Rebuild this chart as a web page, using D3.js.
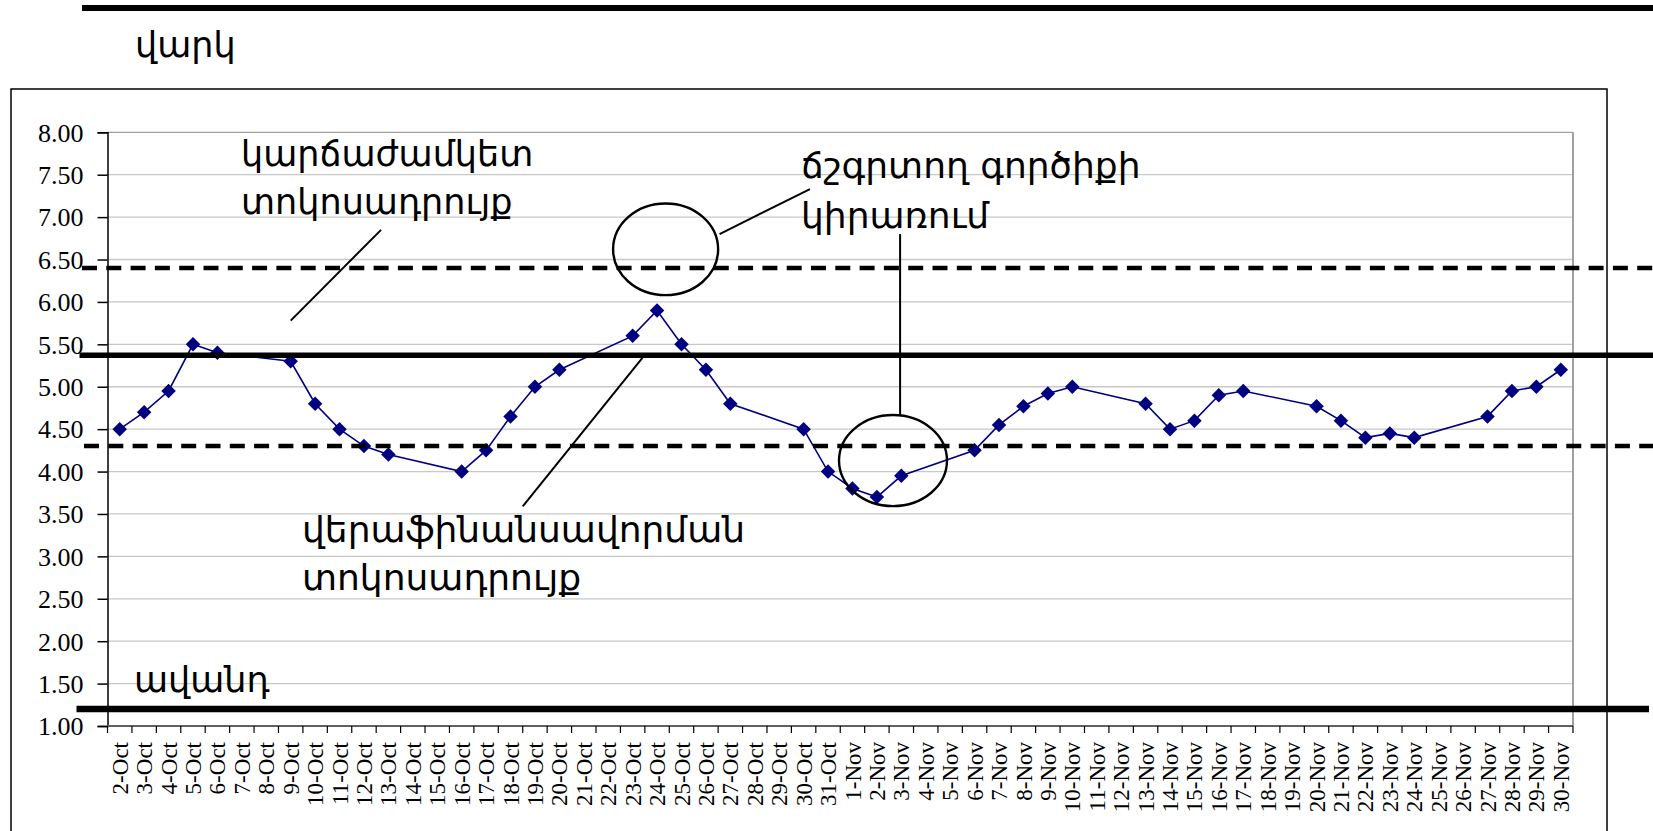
<!DOCTYPE html>
<html>
<head>
<meta charset="utf-8">
<script src="https://cdn.jsdelivr.net/npm/d3@7"></script>
<style>
  body { margin: 0; background: #fff; }
  svg { display: block; }
</style>
</head>
<body>
<div id="chart"></div>
<script>
'use strict';

// dates on the category axis (2 Oct .. 30 Nov)
var days = [
  "2-Oct","3-Oct","4-Oct","5-Oct","6-Oct","7-Oct","8-Oct","9-Oct","10-Oct","11-Oct",
  "12-Oct","13-Oct","14-Oct","15-Oct","16-Oct","17-Oct","18-Oct","19-Oct","20-Oct","21-Oct",
  "22-Oct","23-Oct","24-Oct","25-Oct","26-Oct","27-Oct","28-Oct","29-Oct","30-Oct","31-Oct",
  "1-Nov","2-Nov","3-Nov","4-Nov","5-Nov","6-Nov","7-Nov","8-Nov","9-Nov","10-Nov",
  "11-Nov","12-Nov","13-Nov","14-Nov","15-Nov","16-Nov","17-Nov","18-Nov","19-Nov","20-Nov",
  "21-Nov","22-Nov","23-Nov","24-Nov","25-Nov","26-Nov","27-Nov","28-Nov","29-Nov","30-Nov"
];

// overnight rate, null on weekends
var rates = [
  4.50, 4.70, 4.95, 5.50, 5.40, null, null, 5.30, 4.80, 4.50,
  4.30, 4.20, null, null, 4.00, 4.25, 4.65, 5.00, 5.20, null,
  null, 5.60, 5.90, 5.50, 5.20, 4.80, null, null, 4.50, 4.00,
  3.80, 3.70, 3.95, null, null, 4.25, 4.55, 4.77, 4.92, 5.00,
  null, null, 4.80, 4.50, 4.60, 4.90, 4.95, null, null, 4.77,
  4.60, 4.40, 4.45, 4.40, null, null, 4.65, 4.95, 5.00, 5.20
];

var yTicks = [1.00, 1.50, 2.00, 2.50, 3.00, 3.50, 4.00, 4.50, 5.00, 5.50, 6.00, 6.50, 7.00, 7.50, 8.00];

// corridor levels: upper (credit), refinancing, lower, deposit
var levelNames  = ["credit", "refinancing", "corridorLow", "deposit"];
var levelValues = [6.40, 5.37, 4.30, 1.20];
var levelDashed = [true, false, true, false];

var labelTexts = {
  credit: "վարկ",
  shortTerm: ["կարճաժամկետ", "տոկոսադրույք"],
  tuning: ["ճշգրտող գործիքի", "կիրառում"],
  refinancing: ["վերաֆինանսավորման", "տոկոսադրույք"],
  deposit: "ավանդ"
};

var width = 1653, height = 831;
var plot = { left: 107.5, right: 1573, top: 132.3, bottom: 726 };

var svg = d3.select("#chart").append("svg")
  .attr("width", width)
  .attr("height", height);

var x = d3.scaleBand().domain(days).range([plot.left, plot.right]).paddingInner(0).paddingOuter(0);
var y = d3.scaleLinear().domain([1, 8]).range([plot.bottom, plot.top]);

// position between categories, i is a fractional category index
function xi(i) { return plot.left + x.step() * (i + 0.5); }

var armFont = "DejaVu Sans";
var armSize = 35;

// outer frame of the chart object
svg.append("rect")
  .attr("x", 11).attr("y", 89)
  .attr("width", 1596).attr("height", 800)
  .attr("fill", "none")
  .attr("stroke", "#000")
  .attr("stroke-width", 1.5);

// gridlines
svg.append("g")
  .selectAll("line")
  .data(yTicks.filter(function(d) { return d > 1; }))
  .enter().append("line")
  .attr("x1", plot.left).attr("x2", plot.right)
  .attr("y1", function(d) { return y(d); })
  .attr("y2", function(d) { return y(d); })
  .attr("stroke", function(d) { return d === 8 ? "#a0a0a0" : "#c8c8c8"; })
  .attr("stroke-width", 1.3);

// right border of the plot area
svg.append("line")
  .attr("x1", plot.right).attr("x2", plot.right)
  .attr("y1", plot.top).attr("y2", plot.bottom)
  .attr("stroke", "#a0a0a0").attr("stroke-width", 2);

// y axis
var yAxis = d3.axisLeft(y)
  .tickValues(yTicks)
  .tickFormat(d3.format(".2f"))
  .tickSize(10)
  .tickPadding(14);

var gy = svg.append("g")
  .attr("transform", "translate(" + plot.left + ",0)")
  .call(yAxis);
gy.select(".domain").attr("stroke", "#000").attr("stroke-width", 1.5);
gy.selectAll(".tick line").attr("stroke", "#000").attr("stroke-width", 1.5);
gy.selectAll(".tick text")
  .attr("font-family", "Liberation Serif, Times New Roman, serif")
  .attr("font-size", 26)
  .attr("fill", "#000")
  .attr("dy", "0.34em");

// x axis: ticks between categories
var gx = svg.append("g");
gx.append("line")
  .attr("x1", plot.left).attr("x2", plot.right)
  .attr("y1", plot.bottom).attr("y2", plot.bottom)
  .attr("stroke", "#606060").attr("stroke-width", 2);
gx.selectAll("line.tick")
  .data(d3.range(days.length + 1))
  .enter().append("line")
  .attr("class", "tick")
  .attr("x1", function(i) { return plot.left + x.step() * i; })
  .attr("x2", function(i) { return plot.left + x.step() * i; })
  .attr("y1", plot.bottom).attr("y2", plot.bottom + 7)
  .attr("stroke", "#000").attr("stroke-width", 1.2);
gx.selectAll("text")
  .data(days)
  .enter().append("text")
  .attr("transform", function(d) {
    return "translate(" + (x(d) + x.bandwidth() / 2) + "," + (plot.bottom + 16) + ") rotate(-90)";
  })
  .attr("text-anchor", "end")
  .attr("dy", "0.35em")
  .attr("font-family", "Liberation Serif, Times New Roman, serif")
  .attr("font-size", 23)
  .attr("fill", "#000")
  .text(function(d) { return d; });

// the rate series
var points = days.map(function(d, i) { return { day: d, v: rates[i] }; })
  .filter(function(p) { return p.v !== null; });

var line = d3.line()
  .x(function(p) { return x(p.day) + x.bandwidth() / 2; })
  .y(function(p) { return y(p.v); });

svg.append("path")
  .datum(points)
  .attr("d", line)
  .attr("fill", "none")
  .attr("stroke", "#000080")
  .attr("stroke-width", 1.6);

svg.append("g")
  .selectAll("path")
  .data(points)
  .enter().append("path")
  .attr("d", d3.symbol().type(d3.symbolSquare).size(105))
  .attr("transform", function(p) {
    return "translate(" + (x(p.day) + x.bandwidth() / 2) + "," + y(p.v) + ") rotate(45)";
  })
  .attr("fill", "#000080");

// corridor lines, drawn over the plot and past its edges
var levelStart = [82, 79.5, 84, 76.5];
var levelEnd   = [1653, 1653, 1653, 1649];
var levelWidth = [4.5, 5.5, 4.5, 6.5];
svg.append("g")
  .selectAll("line")
  .data(levelValues)
  .enter().append("line")
  .attr("x1", function(d, i) { return levelStart[i]; })
  .attr("x2", function(d, i) { return levelEnd[i]; })
  .attr("y1", function(d) { return y(d); })
  .attr("y2", function(d) { return y(d); })
  .attr("stroke", "#000")
  .attr("stroke-width", function(d, i) { return levelWidth[i]; })
  .attr("stroke-dasharray", function(d, i) { return levelDashed[i] ? "15,9.3" : null; });

// top rule
svg.append("line")
  .attr("x1", 82).attr("x2", 1653)
  .attr("y1", 8).attr("y2", 8)
  .attr("stroke", "#000").attr("stroke-width", 6);

// callouts: ellipses and pointers, in category-index / value units
var ellipses = [
  { i: 22.35, v: 6.62, ri: 2.15, rv: 0.54 },
  { i: 31.66, v: 4.13, ri: 2.21, rv: 0.537 }
];
svg.append("g")
  .selectAll("ellipse")
  .data(ellipses)
  .enter().append("ellipse")
  .attr("cx", function(e) { return xi(e.i); })
  .attr("cy", function(e) { return y(e.v); })
  .attr("rx", function(e) { return e.ri * x.step(); })
  .attr("ry", function(e) { return y(0) - y(e.rv); })
  .attr("fill", "none")
  .attr("stroke", "#000")
  .attr("stroke-width", 2.4);

var pointers = [
  { i1: 10.7, v1: 6.85, i2: 7.0, v2: 5.78 },
  { i1: 24.56, v1: 6.80, i2: 28.26, v2: 7.33 },
  { i1: 31.95, v1: 6.80, i2: 31.95, v2: 4.66 },
  { i1: 16.5, v1: 3.59, i2: 21.4, v2: 5.34 }
];
svg.append("g")
  .selectAll("line")
  .data(pointers)
  .enter().append("line")
  .attr("x1", function(p) { return xi(p.i1); })
  .attr("y1", function(p) { return y(p.v1); })
  .attr("x2", function(p) { return xi(p.i2); })
  .attr("y2", function(p) { return y(p.v2); })
  .attr("stroke", "#000")
  .attr("stroke-width", 2);

// text labels
function label(lines, xPos, yPos, lineGap, size) {
  var t = svg.append("text")
    .attr("font-family", armFont)
    .attr("font-size", size || armSize)
    .attr("fill", "#000");
  [].concat(lines).forEach(function(s, k) {
    t.append("tspan")
      .attr("x", xPos)
      .attr("y", yPos + k * lineGap)
      .text(s);
  });
  return t;
}

label(labelTexts.credit, 135, 57, 0);
label(labelTexts.shortTerm, 241, 166, 48);
label(labelTexts.tuning, 801, 178, 50, 36);
label(labelTexts.refinancing, 302, 542, 48, 36);
label(labelTexts.deposit, 134, 692, 0);
</script>
</body>
</html>
